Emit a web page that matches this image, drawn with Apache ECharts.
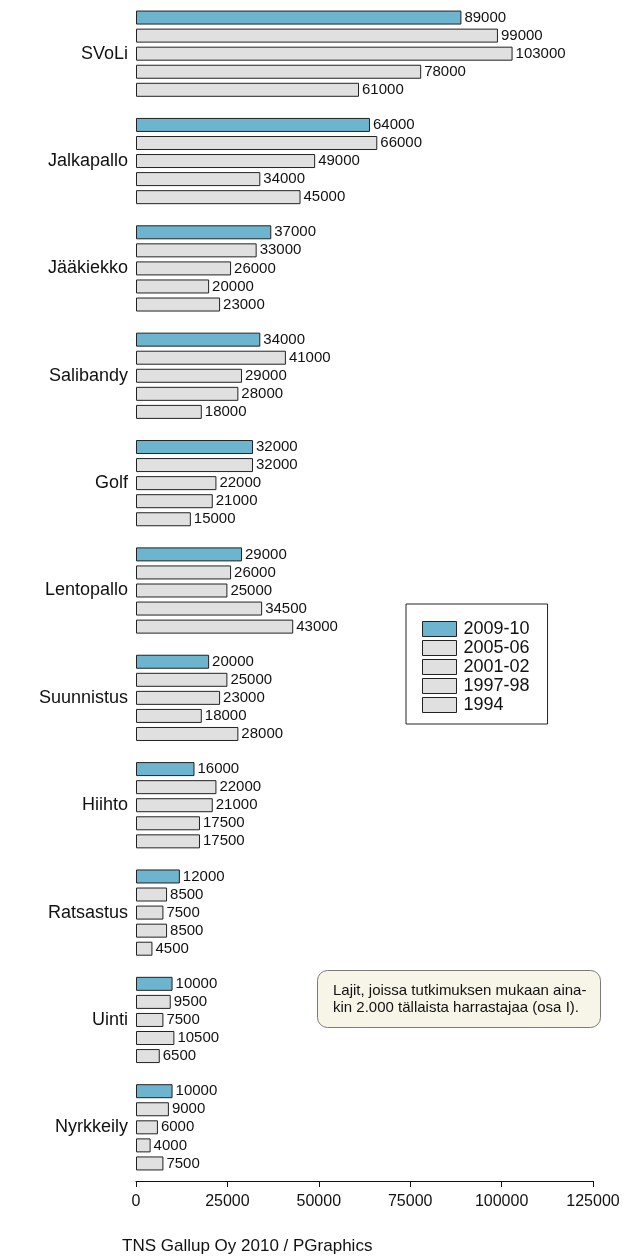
<!DOCTYPE html>
<html lang="fi">
<head>
    <meta charset="UTF-8">
    <title>Lajit</title>
    <style>
        html, body { margin: 0; padding: 0; background: #fff; }
    </style>
</head>
<body>
    <div id="chart" style="width: 632px;height:1258px;"></div>
    <script src="https://cdn.jsdelivr.net/npm/echarts@6/dist/echarts.min.js"></script>
    <script>
        // lajit ylhäältä alas
        var sports = ['SVoLi', 'Jalkapallo', 'Jääkiekko', 'Salibandy', 'Golf', 'Lentopallo',
            'Suunnistus', 'Hiihto', 'Ratsastus', 'Uinti', 'Nyrkkeily'];
        var years = ['2009-10', '2005-06', '2001-02', '1997-98', '1994'];
        var v2009 = [89000, 64000, 37000, 34000, 32000, 29000, 20000, 16000, 12000, 10000, 10000];
        var v2005 = [99000, 66000, 33000, 41000, 32000, 26000, 25000, 22000, 8500, 9500, 9000];
        var v2001 = [103000, 49000, 26000, 29000, 22000, 25000, 23000, 21000, 7500, 7500, 6000];
        var v1997 = [78000, 34000, 20000, 28000, 21000, 34500, 18000, 17500, 8500, 10500, 4000];
        var v1994 = [61000, 45000, 23000, 18000, 15000, 43000, 28000, 17500, 4500, 6500, 7500];
        var xTicks = [0, 25000, 50000, 75000, 100000, 125000];

        var values = [v2009, v2005, v2001, v1997, v1994];
        var colors = ['#6db5cf', '#e0e0e0', '#e0e0e0', '#e0e0e0', '#e0e0e0'];
        var font = "'Liberation Sans', Arial, sans-serif";

        var chart = echarts.init(document.getElementById('chart'));

        var series = years.map(function (y, i) {
            return {
                name: y,
                type: 'bar',
                data: values[i],
                barWidth: 14,
                barGap: '29%',
                itemStyle: {
                    color: colors[i],
                    borderColor: '#222',
                    borderWidth: 1
                },
                label: {
                    show: true,
                    position: 'right',
                    distance: 3,
                    color: '#111',
                    fontSize: 15,
                    fontFamily: font
                }
            };
        });

        var option = {
            backgroundColor: '#fff',
            animation: false,
            textStyle: { fontFamily: font },
            title: [{
                text: 'Lajit, joissa tutkimuksen mukaan aina-\nkin 2.000 tällaista harrastajaa (osa I).',
                left: 317,
                top: 970,
                padding: [12, 14, 12, 16],
                backgroundColor: '#f7f5e8',
                borderColor: '#7a7a7a',
                borderWidth: 1,
                borderRadius: 10,
                textStyle: {
                    fontSize: 15,
                    fontWeight: 'normal',
                    color: '#111',
                    lineHeight: 17,
                    fontFamily: font
                }
            }, {
                text: 'TNS Gallup Oy 2010 / PGraphics',
                left: 122,
                top: 1238,
                padding: 0,
                textStyle: {
                    fontSize: 17,
                    fontWeight: 'normal',
                    color: '#111',
                    fontFamily: font
                }
            }],
            legend: {
                data: years,
                orient: 'vertical',
                left: 406,
                top: 604,
                padding: [16, 18, 10, 16],
                borderColor: '#222',
                borderWidth: 1,
                itemWidth: 34,
                itemHeight: 15,
                itemGap: 1,
                icon: 'rect',
                itemStyle: { borderWidth: 1, borderColor: '#222' },
                textStyle: {
                    fontSize: 18,
                    lineHeight: 18,
                    color: '#111',
                    padding: [0, 0, 0, 2],
                    fontFamily: font
                }
            },
            grid: {
                left: 136,
                right: 39,
                top: 0,
                height: 1181
            },
            xAxis: {
                type: 'value',
                min: xTicks[0],
                max: xTicks[xTicks.length - 1],
                interval: 25000,
                axisLine: { show: true, lineStyle: { color: '#111', width: 1 } },
                axisTick: { show: true, length: 6, lineStyle: { color: '#111' } },
                axisLabel: {
                    fontSize: 16,
                    color: '#111',
                    margin: 13,
                    fontFamily: font,
                    formatter: function (v) { return String(v); }
                },
                splitLine: { show: false }
            },
            yAxis: {
                type: 'category',
                data: sports,
                inverse: true,
                axisLine: { show: false },
                axisTick: { show: false },
                axisLabel: { fontSize: 18, color: '#111', margin: 8, fontFamily: font }
            },
            series: series
        };

        chart.setOption(option);
    </script>
</body>
</html>
